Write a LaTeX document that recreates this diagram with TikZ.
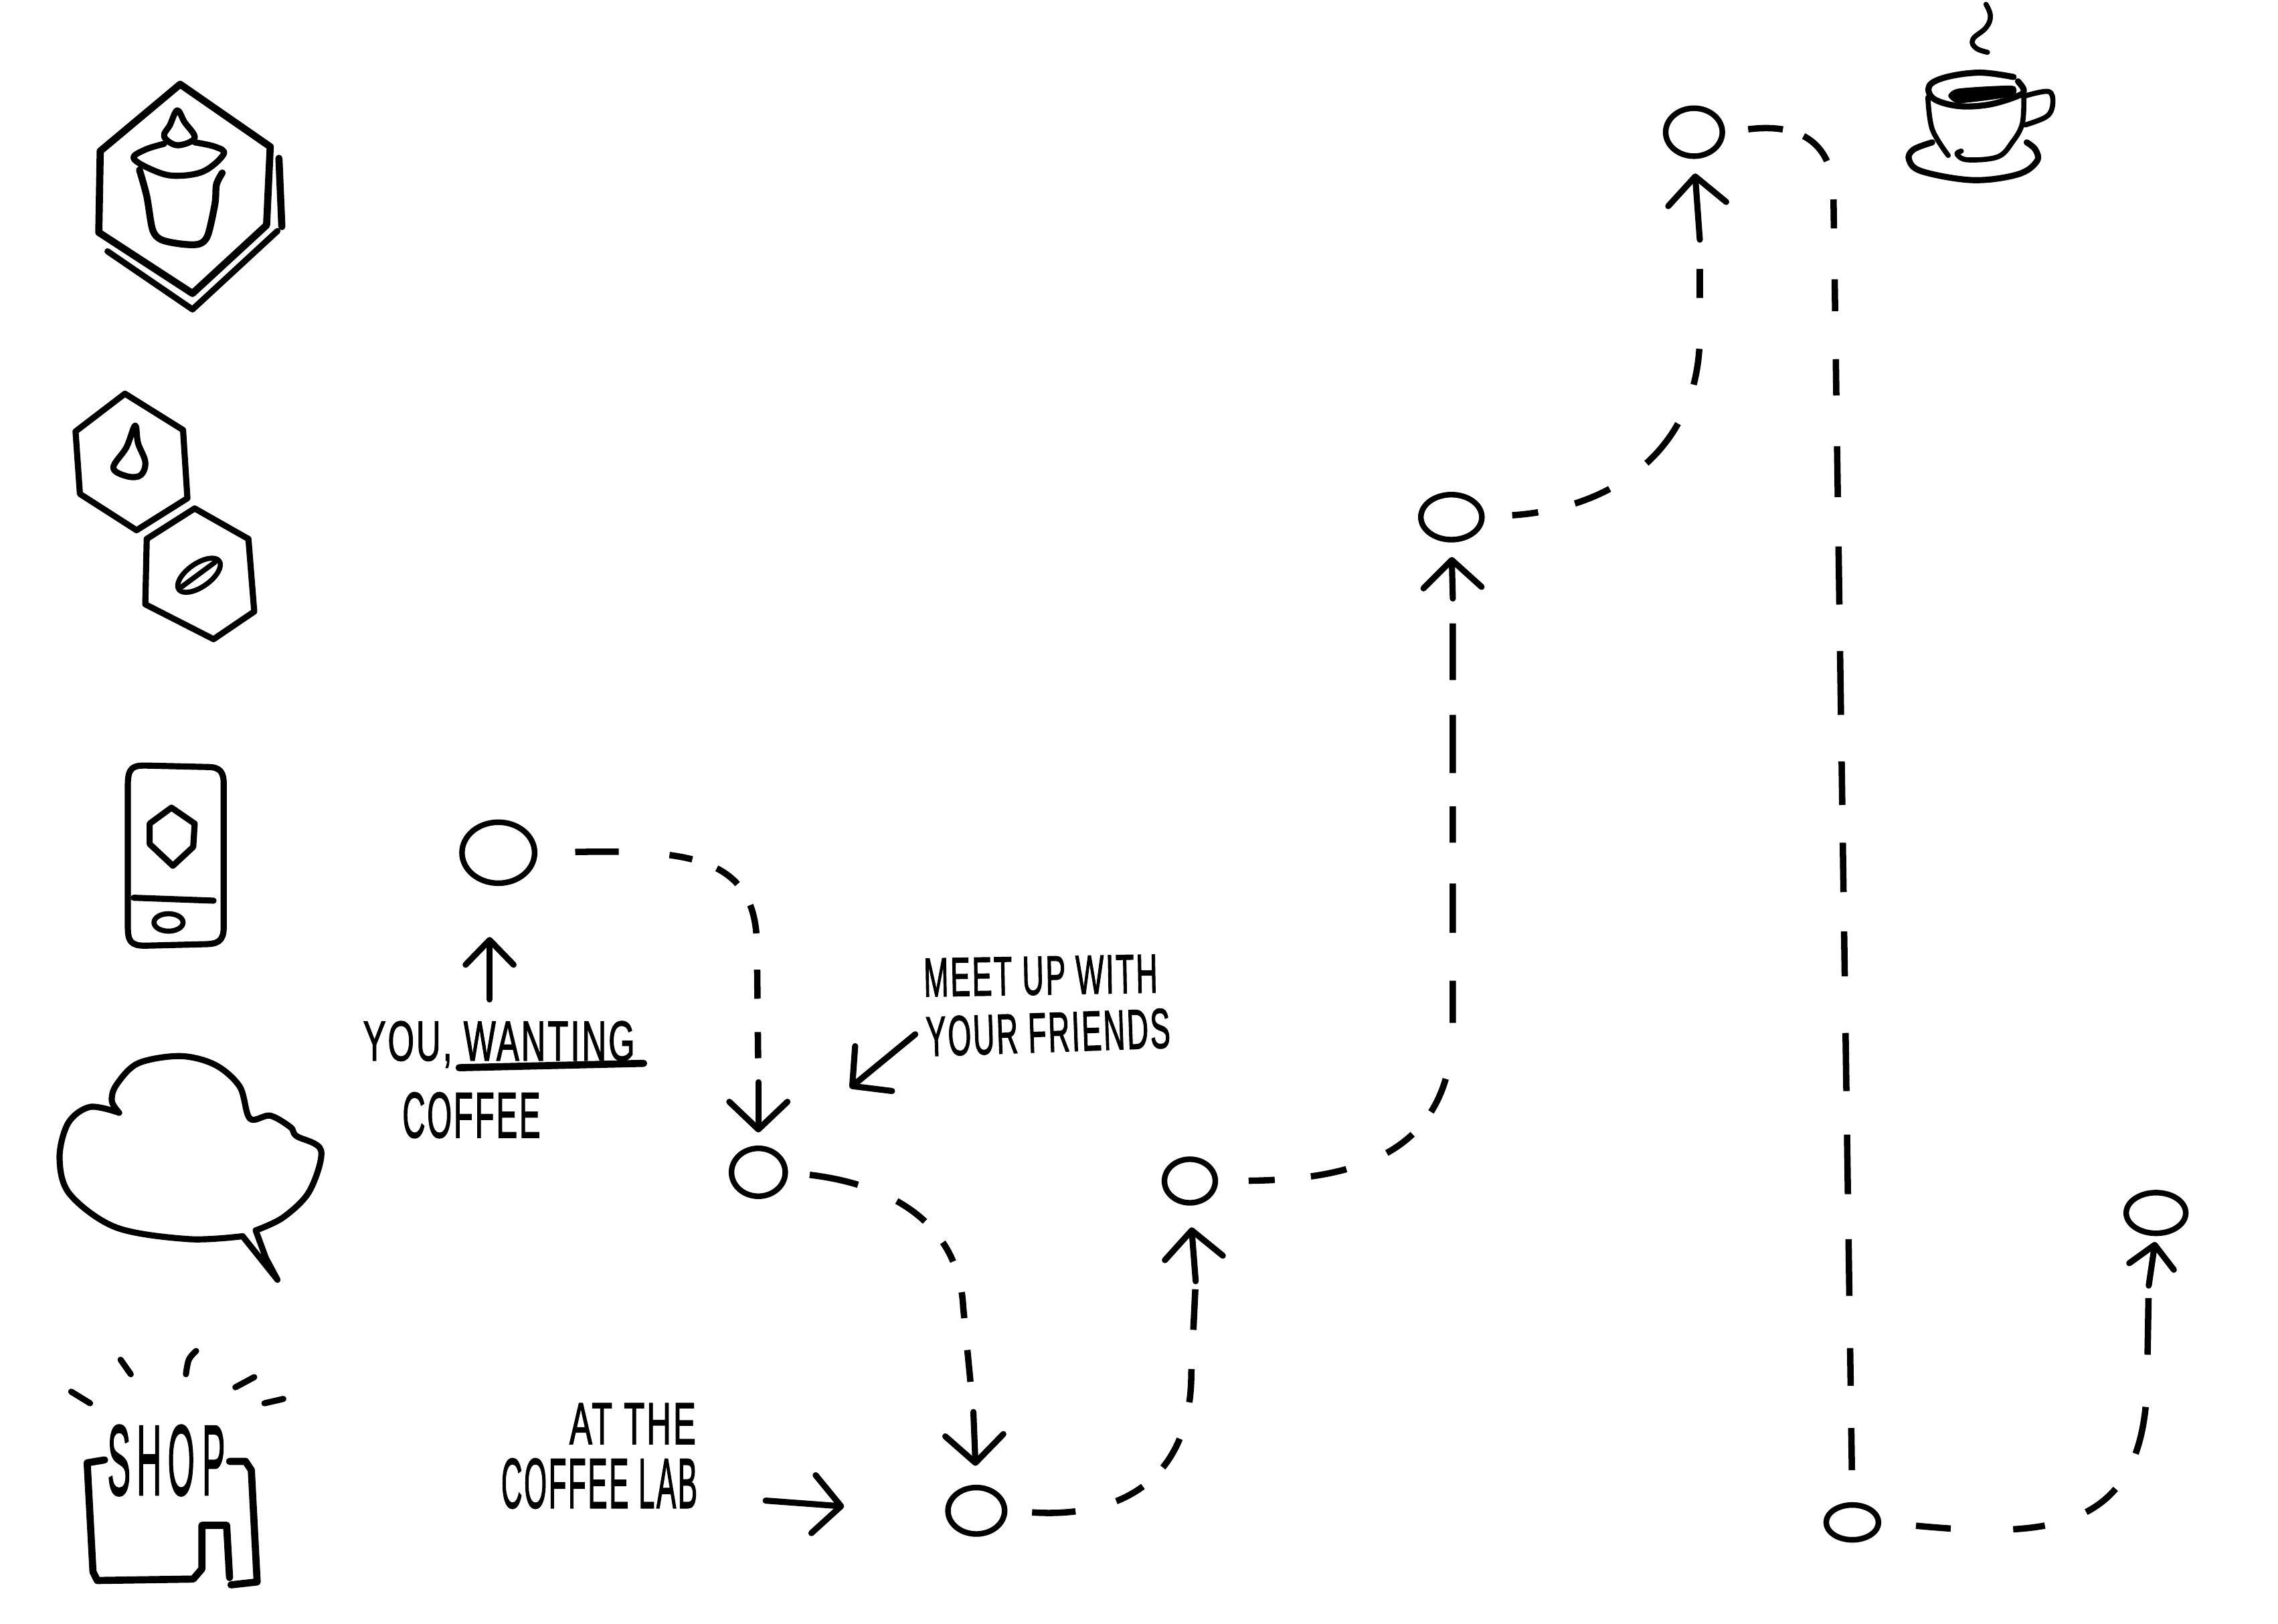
\documentclass[tikz,border=0pt]{standalone}
\usepackage{graphicx}
\usepackage{fontspec}
\newfontfamily\hand[FakeBold=2,LetterSpace=6]{Liberation Sans}
\usetikzlibrary{arrows.meta,shapes.geometric}
\newcommand{\handtext}[3]{\resizebox{#1cm}{#2cm}{\hand #3}}
\tikzset{
  ink/.style={line width=2.4pt,line cap=round,line join=round,black},
  thin ink/.style={line width=2pt,line cap=round,line join=round,black},
  stop/.style={ellipse,draw,line width=2.2pt,inner sep=0pt,black},
  trail/.style={line width=2.5pt,line cap=butt,black},
  pointer/.style={ink,-{Straight Barb[length=.38cm,width=.8cm,round]}},
  label/.style={inner sep=0pt,outer sep=0pt,anchor=base west},
}
\begin{document}
\begin{tikzpicture}[x=.02cm,y=-.02cm]
\useasboundingbox (0,0) rectangle (1568,1117.5);
% large hexagon icon
\draw[ink,line width=2.8pt] (124,58) -- (186,101) -- (183.5,155) -- (132.5,202) -- (68,160) -- (69,104) -- cycle;
\draw[ink,line width=2.8pt] (192,109) -- (194,156);
\draw[ink] (74,173) -- (132.5,213) -- (191,159);
\draw[ink] plot[smooth,tension=.6] coordinates {(113,99) (100,103) (92,109) (105,117) (120,121) (140,118) (154,106) (148,101) (134,98)};
\draw[ink,line width=2.7pt] plot[smooth,tension=.5] coordinates {(96,117) (101,135) (105,158) (111,165) (125,168) (137,168) (143,162) (148,140) (149,127) (153,119)};
\draw[ink] plot[smooth cycle,tension=.6] coordinates {(122,76) (117,86) (113,94) (122,100) (134,95) (127,84)};
% two small hexagons
\draw[ink] (86,271) -- (126,296) -- (129,343) -- (94,365) -- (55,340) -- (52,297) -- cycle;
\draw[ink] plot[smooth cycle,tension=.6] coordinates {(93,293) (87,308) (78,322) (88,328) (97,327) (100,318) (95,305)};
\draw[ink] (134,350) -- (171,371) -- (175,421) -- (147,440) -- (100,416) -- (101,371) -- cycle;
\draw[thin ink,rotate around={35:(137,396)}] (137,396) ellipse (17 and 8);
\draw[thin ink] (125,404) -- (148,387);
% phone
\draw[ink] (88,540) .. controls (88,528) and (92,527) .. (100,527) -- (143,528) .. controls (152,528) and (154,532) .. (154,540) -- (154,638) .. controls (154,648) and (150,650) .. (140,650) -- (100,651) .. controls (90,651) and (88,648) .. (88,638) -- cycle;
\draw[ink] (118,556) -- (134,567) -- (133,583) -- (119,596) -- (103,581) -- (103,567) -- cycle;
\draw[ink] (92,618) -- (147,620);
\draw[thin ink] (116,635) ellipse (10 and 6);
% speech cloud
\draw[ink] plot[smooth,tension=.55] coordinates {(82,766) (62,762) (47,773) (41,797) (48,822) (80,845) (130,853) (167,851)};
\draw[ink] (167,851) -- (191,881) -- (183,866) -- (176,847);
\draw[ink] plot[smooth,tension=.55] coordinates {(176,847) (195,838) (213,820) (221,792) (204,782) (200,776) (186,768) (172,770) (165,748) (148,733) (124,727) (95,732) (80,747) (77,758) (82,766)};
% shop
\draw[ink] (49,958) -- (62,966);
\draw[ink] (83,936) -- (90,946);
\draw[ink] plot[smooth,tension=.6] coordinates {(128,946) (130,936) (135,930)};
\draw[ink] (162,955) -- (175,948);
\draw[ink] (182,966) -- (195,963);
\node[label] (shop) at (74,1029) {\handtext{1.62}{.96}{S\hspace{.18em}H\hspace{.18em}O\hspace{.22em}P}};
\draw[ink,line width=2.8pt] (72,1005) -- (60,1007) -- (64,1082) -- (67,1088) -- (133,1087) -- (139,1080) -- (139,1050) -- (156,1050) -- (158,1086);
\draw[ink,line width=2.8pt] (159,1091) -- (177,1089) -- (173,1012) -- (169,1006) -- (158,1006);
% cup
\draw[thin ink] plot[smooth,tension=.7] coordinates {(1367,3) (1370,11) (1367,19) (1358,27) (1360,33) (1368,36)};
\fill[black] plot[smooth cycle,tension=.4] coordinates {(1341,66) (1348,61) (1385,59) (1387,65) (1375,68) (1348,71)};
\draw[ink] plot[smooth,tension=.6] coordinates {(1386,53) (1363,50) (1340,53) (1328,59) (1331,68) (1348,73) (1369,72) (1389,66) (1393,62) (1389,56)};
\draw[thin ink] plot[smooth,tension=.6] coordinates {(1327,67) (1330,89) (1341,107)};
\draw[thin ink] plot[smooth,tension=.6] coordinates {(1393,66) (1392,85) (1385,98) (1375,108) (1354,110) (1347,106) (1350,104)};
\draw[thin ink] plot[smooth,tension=.6] coordinates {(1394,66) (1410,63) (1413,71) (1409,80) (1394,86)};
\draw[ink] plot[smooth,tension=.6] coordinates {(1330,98) (1317,103) (1314,110) (1323,118) (1358,124) (1389,120) (1402,111) (1401,103) (1395,98)};
% stops
\node[stop,minimum width=1cm,minimum height=.84cm] (n1) at (343,587) {};
\node[stop,minimum width=.74cm,minimum height=.66cm] (n2) at (522,807) {};
\node[stop,minimum width=.78cm,minimum height=.64cm] (n3) at (672,1040) {};
\node[stop,minimum width=.7cm,minimum height=.6cm] (n4) at (819,813) {};
\node[stop,minimum width=.84cm,minimum height=.62cm] (n5) at (999,356) {};
\node[stop,minimum width=.78cm,minimum height=.66cm] (n6) at (1166,91) {};
\node[stop,minimum width=.72cm,minimum height=.48cm] (n7) at (1275,1048) {};
\node[stop,minimum width=.82cm,minimum height=.56cm] (n8) at (1484,835) {};
% trail waypoints
\coordinate (a1) at (522,745);
\coordinate (a2) at (670,972);
\coordinate (a3) at (823,882);
\coordinate (a4) at (1000,412);
\coordinate (a5) at (1170,165);
\coordinate (a7) at (1479,885);
% trail
\draw[trail,shorten <=.52cm,dash pattern=on .6cm off .7cm on .32cm off .36cm on .36cm off .34cm on .4cm off .5cm on .4cm off .46cm on .36cm off 1cm] (n1.east) .. controls (475,585) and (520,590) .. (521,650) -- (a1);
\draw[pointer,shorten >=.18cm] (a1) -- (n2.north);
\draw[trail,shorten <=.3cm,dash pattern=on .68cm off .58cm on .48cm off .38cm on .3cm off .44cm on .36cm off .44cm on .44cm off 1cm] (n2.east) .. controls (610,815) and (660,840) .. (663,900) -- (a2);
\draw[pointer,shorten >=.26cm] (a2) -- (n3.north);
\draw[trail,shorten <=.34cm,dash pattern=on .6cm off .58cm on .42cm off .38cm on .46cm off .52cm on .46cm off .54cm on .56cm off 1cm] (n3.east) .. controls (770,1045) and (820,1020) .. (820,945) -- (a3);
\draw[pointer,shorten >=.3cm] (a3) -- (n4.south);
\draw[trail,shorten <=.42cm,dash pattern=on .36cm off .5cm on .5cm off .6cm on .44cm off .4cm on .5cm off .78cm on .58cm off .66cm on .68cm off .56cm on .5cm off .46cm on .8cm off .48cm on .78cm off 1cm] (n4.east) .. controls (940,812) and (1000,790) .. (1000,705) -- (a4);
\draw[pointer,shorten >=.2cm] (a4) -- (n5.south);
\draw[trail,shorten <=.38cm,dash pattern=on .36cm off .52cm on .52cm off .62cm on .7cm off .58cm on .5cm off .7cm on .4cm off 1cm] (n5.east) .. controls (1110,350) and (1170,310) .. (1170,230) -- (a5);
\draw[pointer,shorten >=.2cm] (a5) -- (n6.south);
\draw[trail,shorten <=.32cm,shorten >=.44cm,dash pattern=on .48cm off .3cm on .48cm off .54cm on .4cm off .7cm on .44cm off .66cm on .5cm off .7cm on .7cm off .68cm on .8cm off .64cm on .88cm off .64cm on .6cm off .52cm on .68cm off .54cm on .62cm off .78cm on .8cm off .6cm on .82cm off .62cm on .78cm off .72cm on .52cm off .58cm on .68cm off 1cm] (n6.east) .. controls (1235,85) and (1262,95) .. (1262,135) -- (n7.north);
\draw[trail,shorten <=.48cm,dash pattern=on .48cm off .86cm on .44cm off .6cm on .52cm off .56cm on .66cm off .72cm on .78cm off 1cm] (n7.east) .. controls (1420,1060) and (1478,1050) .. (1478,945) -- (a7);
\draw[pointer,shorten >=.08cm,-{Straight Barb[length=.3cm,width=.62cm,round]}] (a7) -- (n8.south);
% labels
\node[label] (you) at (250,730) {\handtext{3.74}{.54}{YOU, WANTING}};
\node[label] (coffee) at (277,783) {\handtext{1.9}{.62}{COFFEE}};
\node[label,rotate=1] (meet) at (636,686) {\handtext{3.22}{.52}{MEET UP WITH}};
\node[label,rotate=2] (friends) at (638,727) {\handtext{3.36}{.54}{YOUR FRIENDS}};
\node[label] (atthe) at (392,994) {\handtext{1.74}{.56}{AT THE}};
\node[label] (lab) at (345,1038) {\handtext{2.7}{.68}{COFFEE LAB}};
\coordinate (u1) at (316,735);
\coordinate (u2) at (443,732);
\draw[ink,line width=2.8pt] (u1) -- (u2);
\coordinate (p1) at (337,688);
\coordinate (p1t) at (337,645);
\draw[pointer,-{Straight Barb[length=.34cm,width=.66cm,round]}] (p1) -- (p1t);
\coordinate (p2) at (630,712);
\coordinate (p2t) at (585,749);
\draw[pointer] (p2) -- (p2t);
\coordinate (p3) at (527,1033);
\coordinate (p3t) at (581,1037);
\draw[pointer] (p3) -- (p3t);
\end{tikzpicture}
\end{document}
